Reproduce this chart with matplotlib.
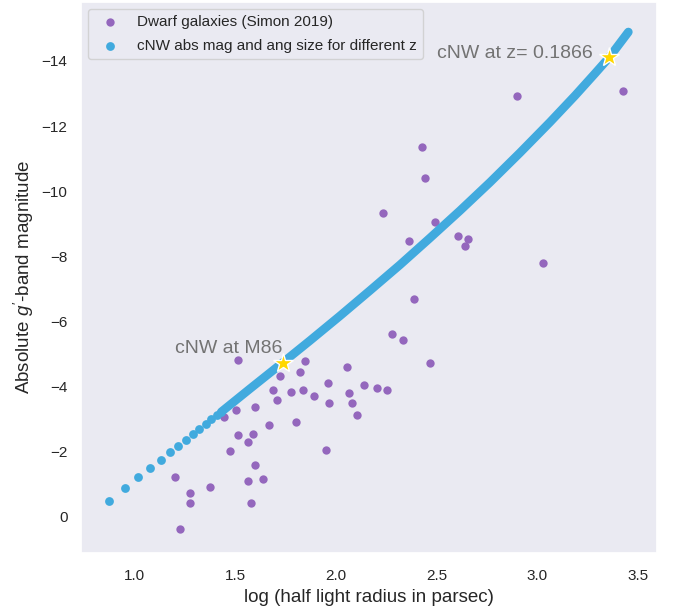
import matplotlib
matplotlib.use('Agg')
import matplotlib.pyplot as plt
import seaborn as sns

# dwarf galaxies (Simon 2019): log half light radius [pc], absolute g' magnitude
dwarf_logr = [2.390, 2.280, 2.334, 2.469, 1.516, 1.849, 1.723, 1.824, 2.056, 1.688,
              1.776, 1.837, 1.707, 1.890, 1.963, 1.968, 2.067, 2.082, 2.104, 2.141,
              2.203, 2.256, 1.503, 1.600, 1.445, 1.670, 1.804, 1.516, 1.589, 1.566,
              1.475, 1.953, 1.600, 1.202, 1.566, 1.640, 1.377, 1.276, 1.276, 1.578,
              1.227, 2.898, 3.427, 2.429, 2.444, 2.233, 2.492, 2.363, 2.606, 2.658,
              2.641, 3.027]
dwarf_mag = [-6.70, -5.62, -5.43, -4.73, -4.80, -4.77, -4.31, -4.45, -4.59, -3.89,
             -3.83, -3.88, -3.59, -3.71, -4.10, -3.50, -3.80, -3.50, -3.11, -4.04,
             -3.96, -3.90, -3.28, -3.37, -3.07, -2.81, -2.91, -2.51, -2.55, -2.30,
             -2.01, -2.06, -1.59, -1.21, -1.10, -1.17, -0.91, -0.72, -0.41, -0.41,
             0.39, -12.93, -13.09, -11.37, -10.41, -9.34, -9.04, -8.48, -8.62, -8.54,
             -8.33, -7.79]

# cNW track for different z: separate low-z points
cnw_logr = [0.874, 0.954, 1.020, 1.078, 1.131, 1.177, 1.218, 1.257, 1.290, 1.323,
            1.354, 1.382, 1.409, 1.432]
cnw_mag = [-0.48, -0.87, -1.21, -1.50, -1.74, -1.98, -2.18, -2.37, -2.55, -2.70,
           -2.86, -2.99, -3.12, -3.22]

# dense part of the track (points overlap into a band)
band_logr = [1.432, 1.574, 1.736, 1.872, 2.021, 2.170, 2.319, 2.467, 2.616, 2.765,
             2.914, 3.063, 3.188, 3.287, 3.357, 3.452]
band_mag = [-3.22, -3.93, -4.73, -5.41, -6.17, -6.95, -7.74, -8.56, -9.40, -10.27,
            -11.18, -12.12, -12.94, -13.62, -14.11, -14.89]

m86_logr, m86_mag = 1.736, -4.73
z_logr, z_mag = 3.357, -14.11

purple = '#9467bd'
blue = '#41aade'

sns.set_theme(style='dark')
plt.rcParams['font.family'] = ['Liberation Sans', 'DejaVu Sans']
plt.rcParams['mathtext.fontset'] = 'custom'
plt.rcParams['mathtext.it'] = 'Liberation Sans:italic'
plt.rcParams['mathtext.rm'] = 'Liberation Sans'

fig = plt.figure(figsize=(6.73, 6.13), dpi=100)
ax = fig.add_axes([0.1199, 0.0979, 0.8563, 0.8993])

ax.scatter(dwarf_logr, dwarf_mag, s=36, color=purple, linewidths=0,
           label='Dwarf galaxies (Simon 2019)', zorder=2)
ax.scatter(cnw_logr, cnw_mag, s=40, color=blue, linewidths=0,
           label='cNW abs mag and ang size for different z', zorder=3)
ax.plot(band_logr, band_mag, color=blue, lw=6.2, solid_capstyle='round',
        solid_joinstyle='round', zorder=3)

ax.plot(m86_logr, m86_mag, marker='*', ms=15, color='gold', mec='white', mew=1, zorder=5)
ax.plot(z_logr, z_mag, marker='*', ms=15, color='gold', mec='white', mew=1, zorder=5)
ax.text(1.202, -5.03, 'cNW at M86', fontsize=14, color='0.45')
ax.text(2.501, -14.09, 'cNW at z= 0.1866', fontsize=14, color='0.45')

ax.set_xlim(0.734, 3.594)
ax.set_ylim(1.115, -15.82)
ax.tick_params(labelsize=11)
ax.tick_params(axis='x', pad=5.5)
ax.set_xlabel('log (half light radius in parsec)', fontsize=13.5)
ax.set_ylabel("Absolute $g'$-band magnitude", fontsize=13.5)
ax.legend(loc='upper left', fontsize=11, labelspacing=0.6)

fig.savefig('out.png', dpi=100)
